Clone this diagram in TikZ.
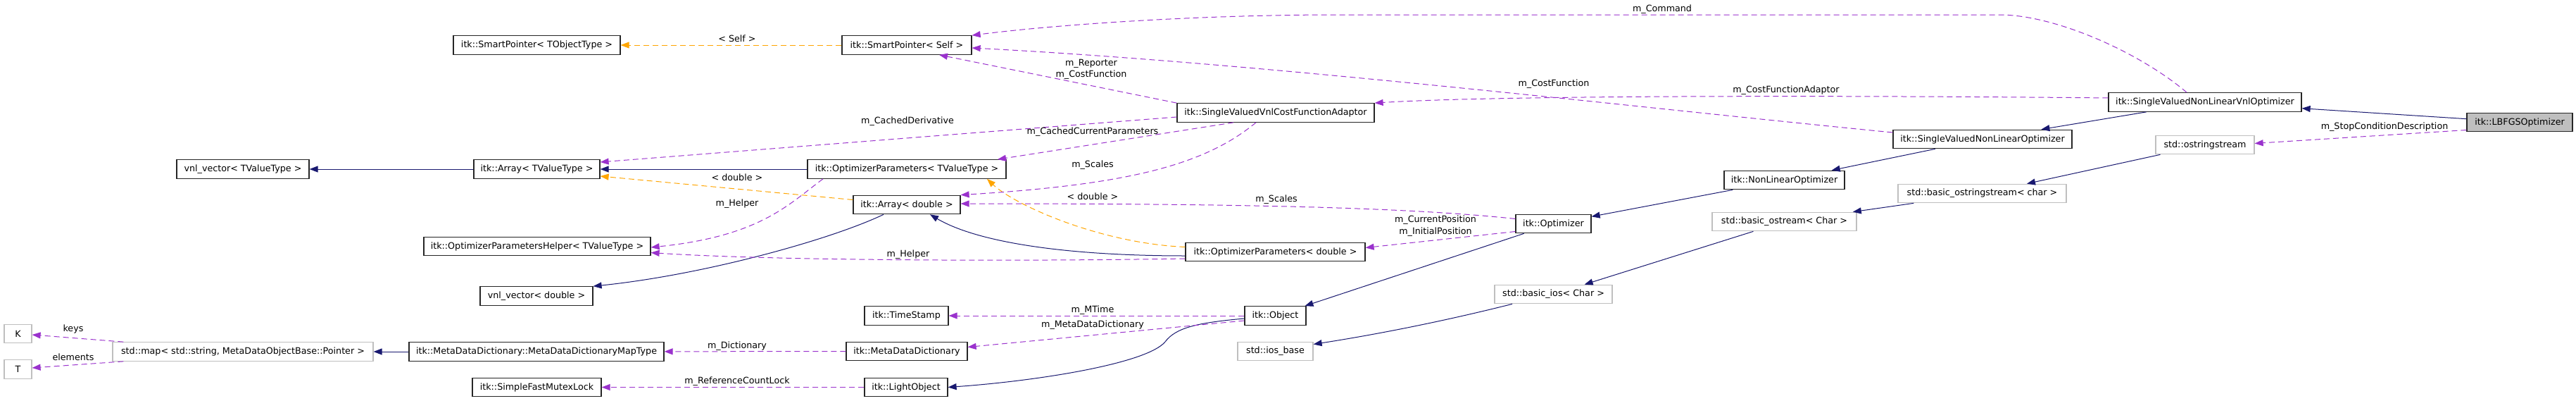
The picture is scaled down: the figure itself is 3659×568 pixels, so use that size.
\documentclass[tikz,border=0pt]{standalone}
\usepackage{fontspec}
\setmainfont{DejaVu Sans}
\usepackage{tikz}
\usetikzlibrary{arrows.meta}
\definecolor{inkline}{HTML}{262626}
\definecolor{navy}{HTML}{191970}
\definecolor{orchid}{HTML}{9A32CD}
\definecolor{tmplorange}{HTML}{FFA500}
\definecolor{greyline}{HTML}{BFBFBF}
\tikzset{
  cls/.style  ={draw=inkline, line width=1.2pt, fill=white, font=\fontsize{12.7}{15}\selectfont,
                minimum width=#1, minimum height=26.5pt, inner sep=0pt},
  ext/.style  ={cls=#1, draw=greyline},
  cur/.style  ={cls=#1, fill=greyline},
  inh/.style  ={draw=navy, line width=1pt, -{Triangle[length=12pt,width=9pt]}},
  use/.style  ={draw=orchid, line width=1pt, dash pattern=on 8pt off 5pt, -{Triangle[length=12pt,width=9pt]}},
  tmpl/.style ={draw=tmplorange, line width=1pt, dash pattern=on 8pt off 5pt, -{Triangle[length=12pt,width=9pt]}},
  lbl/.style  ={font=\fontsize{12.7}{16.5}\selectfont, inner sep=0pt, align=center},
}

\begin{document}
\begin{tikzpicture}[x=1pt,y=-1pt]
\fill[white] (0,0) rectangle (3659,568);
\useasboundingbox (0,0) rectangle (3659,568);
% left columns
\node[ext=39pt] (k) at (25.5,473.5) {K};
\node[ext=39pt] (t) at (25.5,524) {T};
\node[cls=188pt] (vnlt) at (345,240) {vnl\_vector< TValueType >};
\node[ext=370pt] (map) at (345,499) {std::map< std::string, MetaDataObjectBase::Pointer >};
\node[cls=237pt] (spt) at (762.5,64) {itk::SmartPointer< TObjectType >};
\node[cls=179pt] (arrayt) at (762.5,240) {itk::Array< TValueType >};
\node[cls=322pt] (helper) at (763,349.5) {itk::OptimizerParametersHelper< TValueType >};
\node[cls=160pt] (vnld) at (762,420) {vnl\_vector< double >};
\node[cls=362pt] (maptype) at (762,499) {itk::MetaDataDictionary::MetaDataDictionaryMapType};
\node[cls=183pt] (mutex) at (762.5,549.5) {itk::SimpleFastMutexLock};
% middle columns
\node[cls=184pt] (spself) at (1288,64) {itk::SmartPointer< Self >};
\node[cls=282pt] (opt) at (1288,240) {itk::OptimizerParameters< TValueType >};
\node[cls=152pt] (arrayd) at (1288,290.5) {itk::Array< double >};
\node[cls=119pt] (stamp) at (1287.5,448) {itk::TimeStamp};
\node[cls=172pt] (mdd) at (1288,498.5) {itk::MetaDataDictionary};
\node[cls=118pt] (light) at (1287,549.5) {itk::LightObject};
\node[cls=280pt] (adaptor) at (1812,160) {itk::SingleValuedVnlCostFunctionAdaptor};
\node[cls=255pt] (opd) at (1811.5,357.5) {itk::OptimizerParameters< double >};
\node[cls=87pt] (object) at (1811.5,448) {itk::Object};
\node[ext=107pt] (iosbase) at (1811.5,498.5) {std::ios\_base};
\node[cls=107pt] (optimizer) at (2206.5,317.5) {itk::Optimizer};
\node[ext=167pt] (basicios) at (2206.5,417.5) {std::basic\_ios< Char >};
% right columns
\node[cls=171pt] (nlo) at (2534.5,255.5) {itk::NonLinearOptimizer};
\node[ext=205pt] (ostream) at (2534.5,314.5) {std::basic\_ostream< Char >};
\node[cls=254pt] (svnlo) at (2816,197.5) {itk::SingleValuedNonLinearOptimizer};
\node[ext=239pt] (bostr) at (2815.5,274.5) {std::basic\_ostringstream< char >};
\node[cls=274pt] (svnlvnl) at (3132,145) {itk::SingleValuedNonLinearVnlOptimizer};
\node[ext=140pt] (ostr) at (3132,205.5) {std::ostringstream};
\node[cur=150pt] (lbfgs) at (3579,173.5) {itk::LBFGSOptimizer};
% inheritance
\draw[inh] (lbfgs) -- (svnlvnl);
\draw[inh] (svnlvnl) -- (svnlo);
\draw[inh] (svnlo) -- (nlo);
\draw[inh] (nlo) -- (optimizer);
\draw[inh] (optimizer) -- (object);
\draw[inh] ([yshift=-4pt]object.west) .. controls (1700,458) and (1670,465) .. (1655,485)
  .. controls (1630,515) and (1480,540) .. (light.east);
\draw[inh] (ostr) -- (bostr);
\draw[inh] (bostr) -- (ostream);
\draw[inh] (ostream) -- (basicios);
\draw[inh] ([xshift=-58.5pt]basicios.south) .. controls (2054,455) and (1959,474) .. ([yshift=10pt]iosbase.east);
\draw[inh] ([yshift=-5.5pt]opd.west) .. controls (1520,363) and (1390,345) .. ([xshift=33pt]arrayd.south);
\draw[inh] ([xshift=-33pt]arrayd.south) .. controls (1180,340) and (1000,390) .. (vnld.north east);
\draw[inh] (arrayt) -- (vnlt);
\draw[inh] (opt) -- (arrayt);
\draw[inh] (maptype) -- (map);
% template instances
\draw[tmpl] (spself) -- (spt);
\draw[tmpl] ([yshift=7pt]arrayd.west) -- ([yshift=-10pt]arrayt.east);
\draw[tmpl] ([yshift=7pt]opd.west) .. controls (1560,345) and (1440,290) .. ([xshift=114pt]opt.south);
% members
\draw[use] ([xshift=-26pt]svnlvnl.north) .. controls (3040,75) and (2920,21) .. (2840,21) -- (1900,21)
  .. controls (1700,21) and (1500,35) .. (spself.north east);
\draw[use] ([yshift=9.5pt]svnlo.west) .. controls (2300,150) and (1800,90) .. ([yshift=-4pt]spself.east);
\draw[use] ([yshift=6pt]svnlvnl.west) .. controls (2700,136) and (2150,134) .. (adaptor.north east);
\draw[use] (adaptor.north west) -- ([xshift=46pt]spself.south);
\draw[use] ([yshift=-6pt]adaptor.west) -- ([yshift=10pt]arrayt.east);
\draw[use] ([xshift=-60pt]adaptor.south) -- ([xshift=129pt]opt.north);
\draw[use] ([xshift=-28pt]adaptor.south) .. controls (1710,235) and (1600,262) .. (arrayd.north east);
\draw[use] ([yshift=7pt]optimizer.west) .. controls (1980,292) and (1700,289) .. ([yshift=1.5pt]arrayd.east);
\draw[use] ([yshift=-11pt]optimizer.west) -- ([yshift=6pt]opd.east);
\draw[use] ([xshift=-119pt]opt.south) .. controls (1120,290) and (1080,335) .. ([yshift=-1.5pt]helper.east);
\draw[use] ([yshift=-9.5pt]opd.west) .. controls (1450,371) and (1100,370) .. ([yshift=-9pt]helper.east);
\draw[use] (object) -- (stamp);
\draw[use] ([yshift=-7pt]object.west) -- ([yshift=6pt]mdd.east);
\draw[use] (mdd) -- (maptype);
\draw[use] (light) -- (mutex);
\draw[use] ([xshift=16pt]map.north west) -- ([yshift=-1.5pt]k.east);
\draw[use] ([xshift=16pt]map.south west) -- ([yshift=2pt]t.east);
\draw[use] ([yshift=-11pt]lbfgs.west) -- ([yshift=2pt]ostr.east);
% edge labels
\node[lbl] (lself) at (1047,55) {< Self >};
\node[lbl] (ldbla) at (1047,252) {< double >};
\node[lbl] (ldblo) at (1552,279) {< double >};
\node[lbl] (lcmd) at (2361,13) {m\_Command};
\node[lbl] (lcost) at (2207,119) {m\_CostFunction};
\node[lbl] (ladapt) at (2537,128) {m\_CostFunctionAdaptor};
\node[lbl] (lrep) at (1550,98.5) {m\_Reporter\\m\_CostFunction};
\node[lbl] (lderiv) at (1289,172) {m\_CachedDerivative};
\node[lbl] (lcached) at (1552,187) {m\_CachedCurrentParameters};
\node[lbl] (lscal) at (1552,234) {m\_Scales};
\node[lbl] (lscalb) at (1813,283) {m\_Scales};
\node[lbl] (lpos) at (2039,320.5) {m\_CurrentPosition\\m\_InitialPosition};
\node[lbl] (lhelp) at (1047,289) {m\_Helper};
\node[lbl] (lhelpb) at (1290,361) {m\_Helper};
\node[lbl] (lmtime) at (1552,440) {m\_MTime};
\node[lbl] (lmdd) at (1552,461) {m\_MetaDataDictionary};
\node[lbl] (ldict) at (1047,491) {m\_Dictionary};
\node[lbl] (llock) at (1047,541) {m\_ReferenceCountLock};
\node[lbl] (lkeys) at (104,467) {keys};
\node[lbl] (lelem) at (104,507) {elements};
\node[lbl] (lstop) at (3387,180) {m\_StopConditionDescription};
\end{tikzpicture}
\end{document}
